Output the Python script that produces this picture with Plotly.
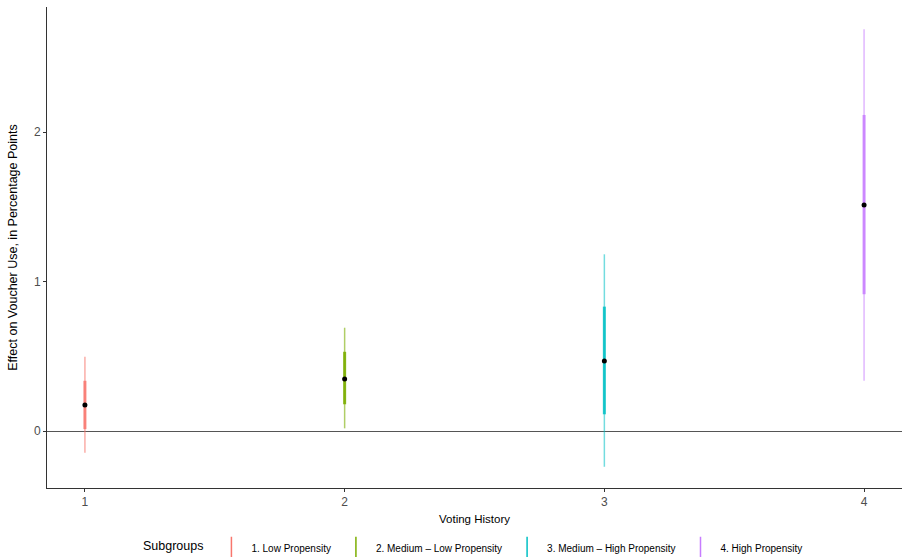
import plotly.graph_objects as go

groups = ["1. Low Propensity", "2. Medium \u2013 Low Propensity",
          "3. Medium \u2013 High Propensity", "4. High Propensity"]
voting_history = [1, 2, 3, 4]
estimate = [0.174, 0.348, 0.468, 1.512]
ci95_low = [-0.146, 0.018, -0.239, 0.337]
ci95_high = [0.497, 0.691, 1.182, 2.687]
ci_inner_low = [0.013, 0.179, 0.112, 0.915]
ci_inner_high = [0.336, 0.530, 0.832, 2.114]
colors = ["#F8766D", "#7CAE00", "#00BFC4", "#C77CFF"]
thin_colors = ["rgba(248,118,109,0.6)", "rgba(124,174,0,0.6)",
               "rgba(0,191,196,0.55)", "rgba(199,124,255,0.55)"]
thick_colors = ["rgba(248,118,109,0.85)", "rgba(124,174,0,0.9)",
                "rgba(0,191,196,0.85)", "rgba(199,124,255,0.85)"]
x_ticks = [1, 2, 3, 4]
y_ticks = [0, 1, 2]

fig = go.Figure()
for i, g in enumerate(groups):
    x = voting_history[i]
    fig.add_trace(go.Scatter(x=[x, x], y=[ci95_low[i], ci95_high[i]], mode="lines",
                             line=dict(color=thin_colors[i], width=1.5),
                             showlegend=False, hoverinfo="skip"))
    fig.add_trace(go.Scatter(x=[x, x], y=[ci_inner_low[i], ci_inner_high[i]], mode="lines",
                             line=dict(color=thick_colors[i], width=3),
                             showlegend=False, hoverinfo="skip"))
for i, g in enumerate(groups):
    fig.add_trace(go.Scatter(x=[None], y=[None], mode="markers", name=g,
                             marker=dict(symbol="line-ns", size=16,
                                         line=dict(color=colors[i], width=1.5))))
fig.add_trace(go.Scatter(x=voting_history, y=estimate, mode="markers",
                         marker=dict(color="black", size=5), showlegend=False))

axis_common = dict(showgrid=False, showline=True, linecolor="#333333", linewidth=1,
                   ticks="outside", ticklen=3, tickcolor="#333333", automargin=False,
                   tickfont=dict(family="Liberation Sans, Arial", size=12, color="#4D4D4D"),
                   mirror=False)
fig.update_layout(
    width=902, height=557,
    margin=dict(l=47, r=0, t=7, b=69, autoexpand=False),
    plot_bgcolor="white", paper_bgcolor="white",
    font=dict(family="Liberation Sans, Arial", color="#000000"),
    xaxis=dict(range=[0.854, 4.146], tickvals=x_ticks, ticktext=[str(t) for t in x_ticks],
               title=dict(text="Voting History", font=dict(size=11.5), standoff=6),
               zeroline=False, **axis_common),
    yaxis=dict(range=[-0.381, 2.836], tickvals=y_ticks, ticktext=[str(t) for t in y_ticks],
               title=dict(text="Effect on Voucher Use, in Percentage Points", font=dict(size=12.5), standoff=13),
               zeroline=True, zerolinecolor="#555555", zerolinewidth=1, **axis_common),
    legend=dict(orientation="h", x=0.526, xanchor="center", xref="container",
                y=-0.1247, yanchor="middle", yref="paper",
                title=dict(text="Subgroups", font=dict(size=12.5), side="left"),
                font=dict(size=10), itemwidth=30, tracegroupgap=0),
)
fig.write_html("out.html", config={"displayModeBar": False},
               post_script="document.body.style.margin='0';document.body.style.overflow='hidden';")
